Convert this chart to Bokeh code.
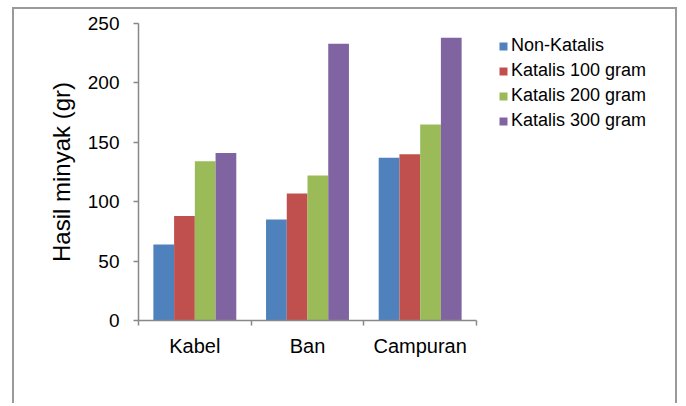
from bokeh.plotting import figure
from bokeh.models import Range1d, FixedTicker, Legend, LegendItem, ColumnDataSource
from bokeh.embed import file_html
from bokeh.resources import INLINE

categories = ["Kabel", "Ban", "Campuran"]
series_names = ["Non-Katalis", "Katalis 100 gram", "Katalis 200 gram", "Katalis 300 gram"]
non_katalis = [64, 85, 137]
katalis_100 = [88, 107, 140]
katalis_200 = [134, 122, 165]
katalis_300 = [141, 233, 238]
y_ticks = [0, 50, 100, 150, 200, 250]

series_values = [non_katalis, katalis_100, katalis_200, katalis_300]
colors = ["#4F81BD", "#C0504D", "#9BBB59", "#8064A2"]
FONT = "Liberation Sans"
AXIS_COLOR = "#888888"

# plot frame spans the legend area too; the x axis is bounded to the categories
FRAME_W = 541
CAT_AREA_W = 338
x_end = len(categories) * FRAME_W / CAT_AREA_W

p = figure(
    width=665, height=396,
    x_range=Range1d(0, x_end),
    y_range=Range1d(0, 250),
    output_backend="svg", toolbar_location=None,
    min_border_left=124, min_border_right=0,
    min_border_top=14, min_border_bottom=85,
)
p.styles = {
    "border-left": "2px solid #9a9a9a",
    "border-top": "2px solid #9a9a9a",
    "border-right": "2px solid #9a9a9a",
    "margin-left": "12px",
    "margin-top": "7px",
}
p.outline_line_color = None
p.xgrid.visible = False
p.ygrid.visible = False
p.background_fill_color = "white"
p.border_fill_color = "white"

bar_w = 0.184
offsets = [-1.5 * bar_w, -0.5 * bar_w, 0.5 * bar_w, 1.5 * bar_w]
items = []
for name, vals, col, off in zip(series_names, series_values, colors, offsets):
    src = ColumnDataSource(dict(x=[i + 0.5 + off for i in range(len(categories))], top=vals))
    r = p.vbar(x="x", top="top", bottom=0, width=bar_w, source=src,
               fill_color=col, line_color=None)
    items.append(LegendItem(label=name, renderers=[r]))

# y axis
p.yaxis.ticker = FixedTicker(ticks=y_ticks)
p.yaxis.axis_line_color = AXIS_COLOR
p.yaxis.axis_line_width = 1.5
p.yaxis.major_tick_line_color = AXIS_COLOR
p.yaxis.major_tick_line_width = 1.5
p.yaxis.major_tick_out = 5
p.yaxis.major_tick_in = 0
p.yaxis.minor_tick_line_color = None
p.yaxis.major_label_text_font = FONT
p.yaxis.major_label_text_font_size = "19px"
p.yaxis.major_label_text_color = "black"
p.yaxis.major_label_standoff = 14
p.yaxis.axis_label = "Hasil minyak (gr)"
p.yaxis.axis_label_text_font = FONT
p.yaxis.axis_label_text_font_size = "24px"
p.yaxis.axis_label_text_font_style = "normal"
p.yaxis.axis_label_text_color = "black"
p.yaxis.axis_label_standoff = 10

# x axis: labels at category centres, tick marks at category boundaries
p.xaxis.bounds = (0, len(categories))
p.xaxis.ticker = FixedTicker(ticks=[i + 0.5 for i in range(len(categories))],
                             minor_ticks=list(range(len(categories) + 1)))
p.xaxis.major_label_overrides = {i + 0.5: c for i, c in enumerate(categories)}
p.xaxis.axis_line_color = AXIS_COLOR
p.xaxis.axis_line_width = 1.5
p.xaxis.major_tick_line_color = None
p.xaxis.major_tick_out = 0
p.xaxis.major_tick_in = 0
p.xaxis.minor_tick_line_color = AXIS_COLOR
p.xaxis.minor_tick_line_width = 1.5
p.xaxis.minor_tick_out = 5
p.xaxis.minor_tick_in = 0
p.xaxis.major_label_text_font = FONT
p.xaxis.major_label_text_font_size = "20px"
p.xaxis.major_label_text_color = "black"
p.xaxis.major_label_standoff = 9

legend = Legend(items=items, location=(360, 189))
legend.label_text_font = FONT
legend.label_text_font_size = "18px"
legend.label_text_color = "black"
legend.glyph_width = 10
legend.glyph_height = 10
legend.label_height = 21
legend.spacing = 4
legend.label_standoff = 3
legend.padding = 0
legend.margin = 0
legend.border_line_color = None
legend.background_fill_alpha = 0
p.add_layout(legend, "center")

open("out.html", "w").write(file_html(p, INLINE))
